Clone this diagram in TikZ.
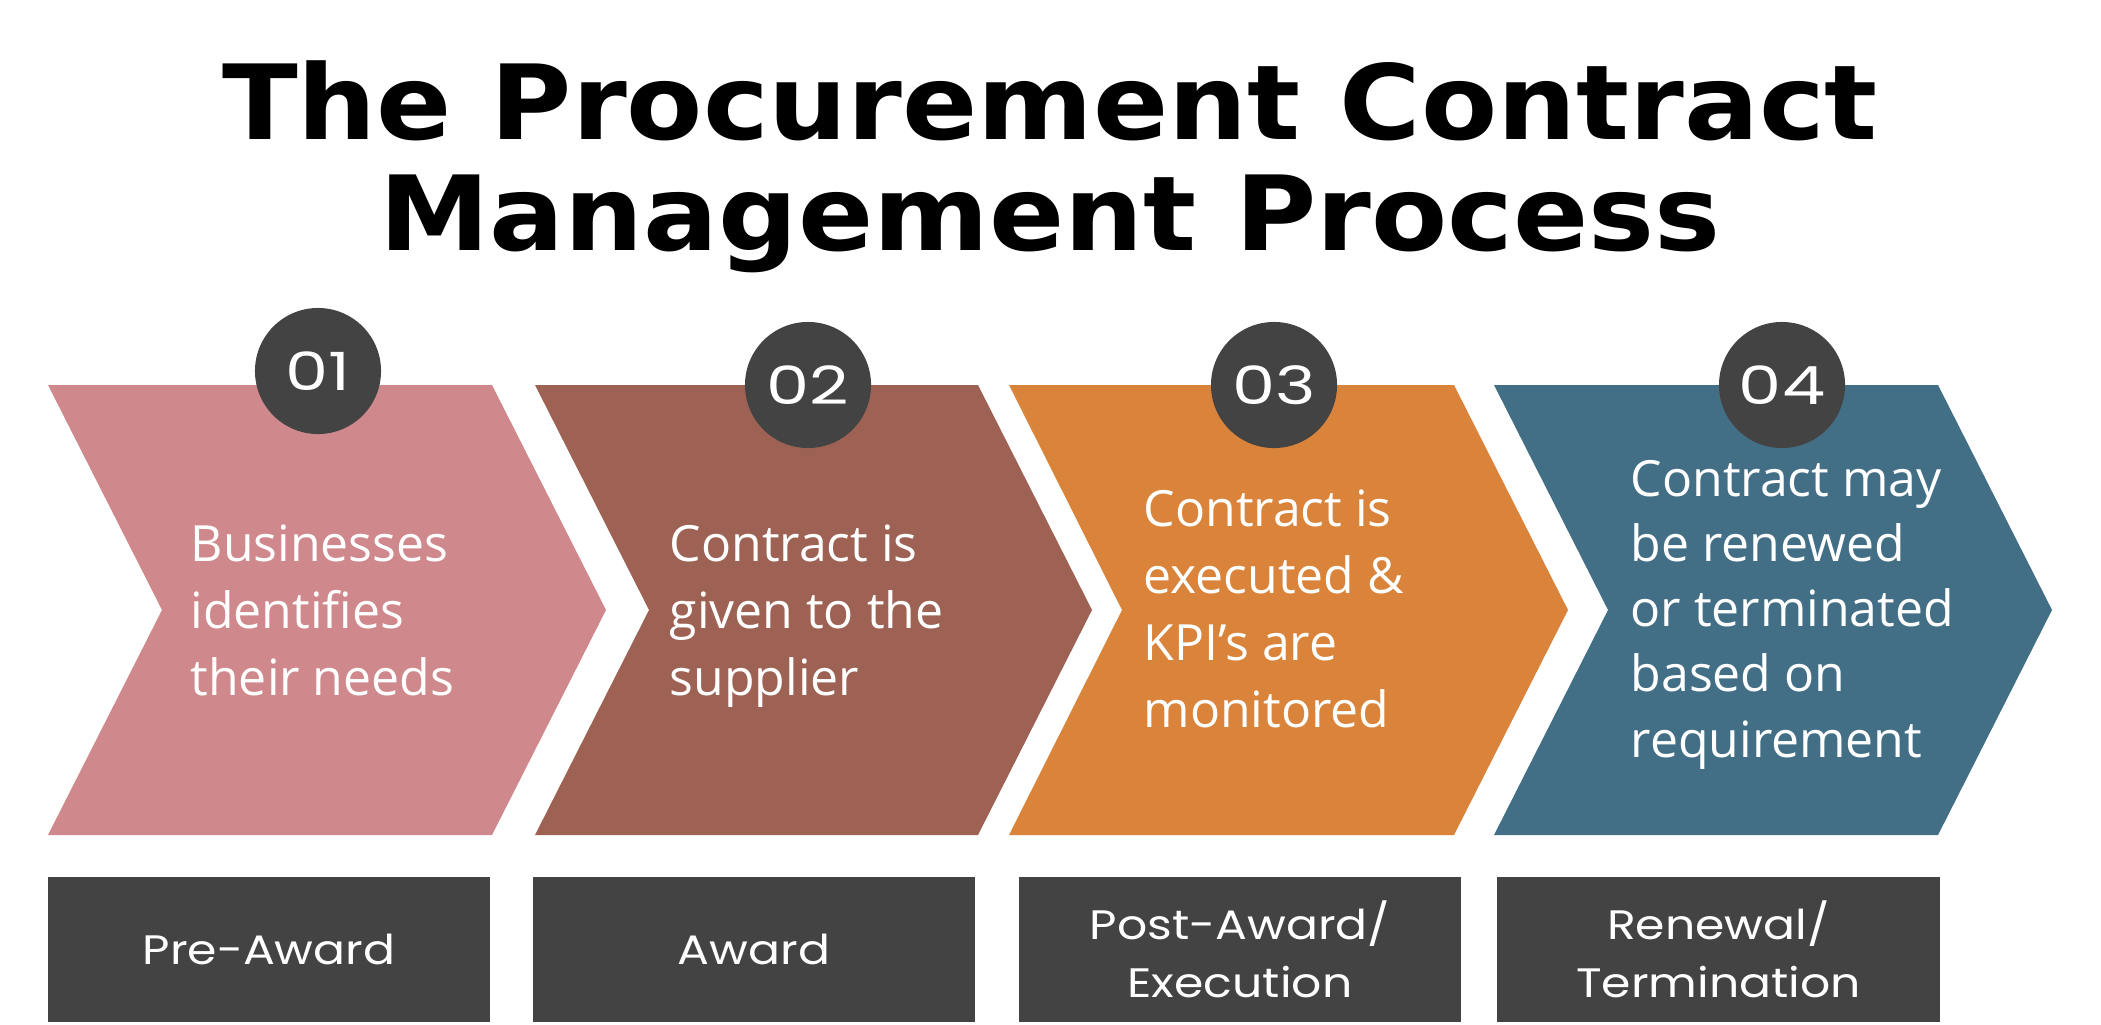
\documentclass[tikz,border=0pt]{standalone}
\usepackage{fontspec}
\setmainfont{Open Sans}
\newfontfamily\titlefont[FakeStretch=1.07]{DejaVu Sans}
\newfontfamily\labelfont[FakeStretch=1.15]{Poppins}
\newfontfamily\numfont[FakeStretch=1.3]{Poppins}
\usetikzlibrary{positioning}

\definecolor{stagePink}{HTML}{CF898C}
\definecolor{stageBrown}{HTML}{9D6253}
\definecolor{stageOrange}{HTML}{DA833A}
\definecolor{stageBlue}{HTML}{436F86}
\definecolor{darkGrey}{HTML}{434343}

\tikzset{
  steptext/.style={anchor=base west, inner sep=0pt, align=left, text=white,
    font=\fontsize{14.2}{19}\selectfont},
  stepnum/.style={circle, fill=darkGrey, minimum size=1.26cm, inner sep=0pt,
    text=white, font=\numfont\fontsize{15}{16}\selectfont},
  phasebox/.style={rectangle, fill=darkGrey, minimum width=4.42cm, minimum height=1.45cm,
    inner sep=0pt, align=center, text=white, font=\labelfont\fontsize{11.7}{16.5}\selectfont}
}

\begin{document}
\begin{tikzpicture}[x=0.01cm, y=-0.01cm]
  \useasboundingbox (0,0) rectangle (2101,1024);

  % Title (base = last line)
  \node[anchor=base, inner sep=0pt, align=center, font=\titlefont\bfseries\fontsize{29.5}{31.3}\selectfont]
    (title) at (1050,250) {The Procurement Contract\\Management Process};

  % Chevrons
  \fill[stagePink]   (48,385) -- (492,385) -- (606,610) -- (492,835) -- (48,835) -- (162,610) -- cycle;
  \fill[stageBrown]  (535,385) -- (978,385) -- (1092,610) -- (978,835) -- (535,835) -- (649,610) -- cycle;
  \fill[stageOrange] (1009,385) -- (1454,385) -- (1568,610) -- (1454,835) -- (1009,835) -- (1122,610) -- cycle;
  \fill[stageBlue]   (1494,385) -- (1938,385) -- (2052,610) -- (1938,835) -- (1494,835) -- (1608,610) -- cycle;

  % Step numbers
  \node[stepnum] (num1) at (318,371) {01};
  \node[stepnum] (num2) at (808,385) {02};
  \node[stepnum] (num3) at (1274,385) {03};
  \node[stepnum] (num4) at (1782,385) {04};

  % Step texts (base = last line)
  \node[steptext] (text1) at (190,695) {Businesses\\identifies\\their needs};
  \node[steptext] (text2) at (669,695) {Contract is\\given to the\\supplier};
  \node[steptext] (text3) at (1143,727) {Contract is\\executed \&\\KPI’s are\\monitored};
  \node[steptext, font=\fontsize{14.2}{18.5}\selectfont] (text4) at (1630,757)
    {Contract may\\be renewed\\or terminated\\based on\\requirement};

  % Phase boxes
  \node[phasebox] (phase1) at (269,949.5) {Pre-Award};
  \node[phasebox] (phase2) at (754,949.5) {Award};
  \node[phasebox] (phase3) at (1240,949.5) {Post-Award/\\Execution};
  \node[phasebox] (phase4) at (1718.5,949.5) {Renewal/\\Termination};
\end{tikzpicture}
\end{document}
